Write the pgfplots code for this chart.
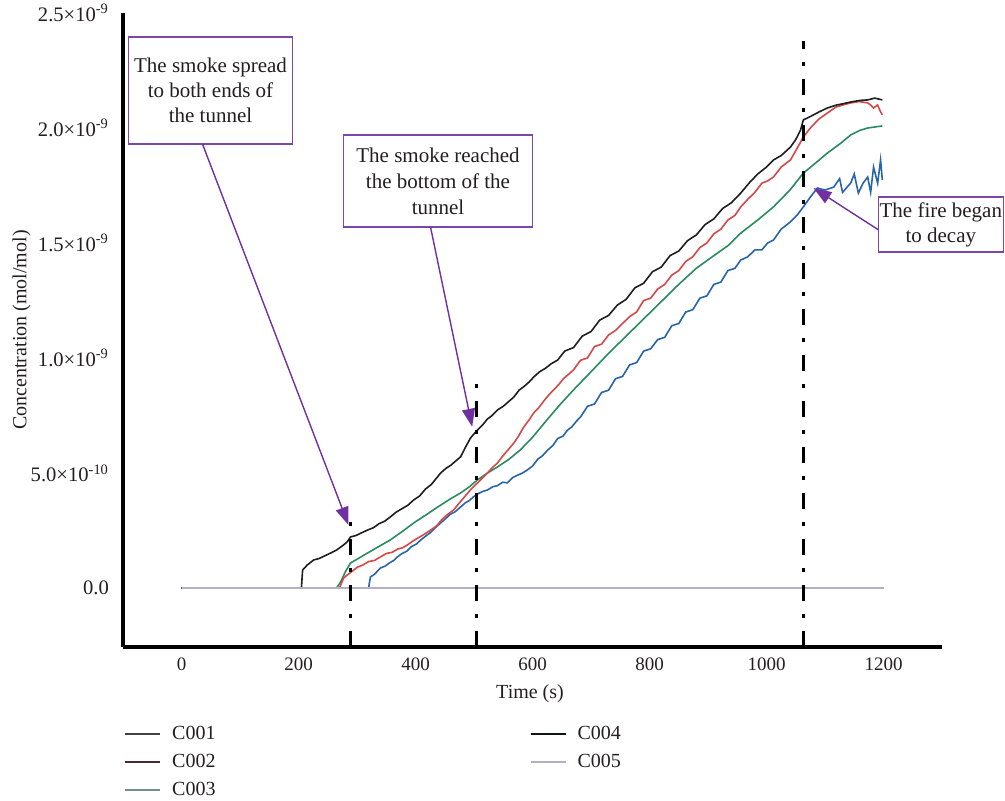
\documentclass[border=0pt]{standalone}
\usepackage{pgfplots}
\pgfplotsset{compat=1.18}
\usepackage{fontspec}
\setmainfont{Liberation Serif}
\usetikzlibrary{arrows.meta}

\definecolor{txt}{RGB}{35,31,32}
\definecolor{cblack}{RGB}{30,30,30}
\definecolor{cred}{RGB}{214,72,72}
\definecolor{cgreen}{RGB}{40,140,95}
\definecolor{cblue}{RGB}{40,100,170}
\definecolor{cgray}{RGB}{184,174,196}
\definecolor{lone}{RGB}{60,66,70}
\definecolor{ltwo}{RGB}{74,40,46}
\definecolor{lthree}{RGB}{122,138,140}
\definecolor{lfour}{RGB}{14,22,16}
\definecolor{annot}{RGB}{125,70,170}
\definecolor{arrowp}{RGB}{112,48,160}

\begin{document}
\begin{tikzpicture}
\begin{axis}[
  scale only axis, width=409.5pt, height=317pt,
  xmin=-100, xmax=1300, ymin=-0.2565, ymax=2.5,
  axis x line*=bottom, axis y line*=left,
  axis line style={line width=2pt, black, -},
  every outer x axis line/.append style={-},
  every outer y axis line/.append style={-},
  major tick length=0pt,
  xtick={0,200,400,600,800,1000,1200},
  ytick={0,0.5,1,1.5,2,2.5},
  yticklabels={0.0, 5.0×10\textsuperscript{-10}, 1.0×10\textsuperscript{-9}, 1.5×10\textsuperscript{-9}, 2.0×10\textsuperscript{-9}, 2.5×10\textsuperscript{-9}},
  /pgf/number format/assume math mode=true,
  /pgf/number format/1000 sep={},
  xticklabel style={font=\fontsize{9.5}{11}\selectfont, text=txt, yshift=-2pt},
  yticklabel style={font=\fontsize{10.3}{12}\selectfont, text=txt, xshift=-3.5pt},
  xlabel={Time (s)}, ylabel={Concentration (mol/mol)},
  label style={font=\fontsize{10}{12}\selectfont, text=txt},
  xlabel style={at={(axis description cs:0.497,-0.073)}, anchor=center},
  ylabel style={at={(axis description cs:-0.124,0.5)}, anchor=center},
  legend columns=2,
  legend cell align=left,
  legend image code/.code={\draw[#1] (0pt,0pt) -- (17.5pt,0pt);},
  legend style={at={(axis description cs:0.001,-0.116)}, anchor=north west,
    draw=none, fill=none, inner sep=0pt, row sep=1pt,
    font=\fontsize{10}{12}\selectfont, text=txt,
    nodes={inner ysep=2pt, inner xsep=5.5pt, text height=7.5pt, text depth=1.5pt},
    /tikz/every even column/.append style={column sep=151.5pt}},
  clip=false,
]
\addlegendimage{lone, line width=1pt}\addlegendentry{C001}
\addlegendimage{lfour, line width=1pt}\addlegendentry{C004}
\addlegendimage{ltwo, line width=1pt}\addlegendentry{C002}
\addlegendimage{cgray, line width=1pt}\addlegendentry{C005}
\addlegendimage{lthree, line width=1pt}\addlegendentry{C003}

% C003
\addplot[cgreen, line width=0.8pt, forget plot] coordinates {
(0,0) (265,0) (272,0.026) (280,0.07) (289,0.109) (300,0.125) (318,0.152) (337,0.18)
(357,0.209) (377,0.245) (397,0.283) (418,0.318) (438,0.352) (458,0.385) (477,0.413)
(492,0.44) (506,0.470) (523,0.50) (540,0.526) (560,0.56) (579,0.6) (600,0.655)
(626,0.735) (648,0.80) (670,0.861) (700,0.94) (730,1.02) (760,1.095) (790,1.17)
(820,1.245) (850,1.32) (880,1.39) (910,1.445) (935,1.49) (956,1.543) (985,1.60)
(1012,1.657) (1040,1.73) (1063,1.804) (1085,1.85) (1104,1.891) (1125,1.93)
(1144,1.970) (1160,1.99) (1173,2.0) (1198,2.009)};

% C004
\addplot[cblue, line width=0.8pt, forget plot] coordinates {
(0,0) (320,0) (321,0.02) (323,0.048) (330,0.06) (340,0.087) (348,0.095) (356,0.11)
(363,0.12) (369,0.135) (377,0.15) (385,0.16) (393,0.18) (401,0.19) (409,0.209)
(417,0.225) (425,0.24) (433,0.26) (443,0.283) (451,0.30) (459,0.32) (467,0.33)
(477,0.352) (485,0.37) (492,0.38) (499,0.396) (507,0.41) (515,0.42) (523,0.426)
(532,0.44) (540,0.445) (549,0.46) (557,0.457) (566,0.48) (574,0.49) (583,0.50)
(591,0.513) (600,0.53) (609,0.56) (617,0.575) (626,0.6) (635,0.62) (643,0.65)
(652,0.66) (660,0.687) (667,0.70) (675,0.725) (682,0.743) (694,0.79) (706,0.80)
(718,0.85) (730,0.86) (742,0.91) (754,0.92) (766,0.97) (778,0.98) (790,1.03)
(802,1.04) (814,1.08) (826,1.09) (838,1.14) (850,1.15) (862,1.20) (874,1.21)
(886,1.26) (898,1.27) (910,1.32) (922,1.33) (934,1.38) (946,1.39) (956,1.426)
(968,1.44) (980,1.47) (992,1.47) (1002,1.50) (1012,1.513) (1025,1.56) (1040,1.59)
(1052,1.62) (1063,1.657) (1075,1.70) (1087,1.739) (1100,1.73) (1115,1.743)
(1125,1.78) (1130,1.72) (1144,1.761) (1150,1.80) (1157,1.717) (1165,1.76)
(1173,1.787) (1178,1.72) (1183,1.830) (1190,1.76) (1195,1.861) (1198,1.774)};

% C002
\addplot[cred, line width=0.8pt, forget plot] coordinates {
(0,0) (270,0) (275,0.03) (277,0.043) (285,0.06) (293,0.075) (301,0.091) (310,0.10)
(320,0.115) (330,0.12) (340,0.135) (350,0.15) (360,0.155) (370,0.17) (378,0.175)
(386,0.187) (396,0.205) (406,0.22) (416,0.235) (426,0.252) (436,0.27) (446,0.30)
(455,0.32) (465,0.339) (475,0.37) (485,0.40) (495,0.43) (506,0.457) (515,0.48)
(523,0.50) (532,0.525) (540,0.543) (548,0.57) (558,0.60) (568,0.630) (576,0.66)
(585,0.70) (594,0.73) (602,0.761) (611,0.785) (620,0.815) (628,0.84) (636,0.861)
(645,0.885) (653,0.91) (662,0.93) (670,0.948) (682,0.99) (694,1.00) (706,1.05)
(718,1.06) (730,1.10) (742,1.12) (754,1.15) (766,1.18) (778,1.20) (790,1.25)
(802,1.26) (814,1.30) (826,1.32) (838,1.36) (850,1.38) (862,1.42) (874,1.44)
(886,1.48) (898,1.50) (910,1.54) (922,1.56) (934,1.60) (946,1.62) (956,1.657)
(968,1.69) (980,1.72) (992,1.76) (1002,1.77) (1012,1.787) (1025,1.83) (1041,1.861)
(1052,1.91) (1063,1.961) (1075,2.00) (1090,2.04) (1104,2.065) (1118,2.09)
(1130,2.10) (1144,2.109) (1158,2.115) (1173,2.109) (1178,2.10) (1183,2.087)
(1190,2.10) (1195,2.07) (1198,2.057)};

% C001
\addplot[cblack, line width=0.8pt, forget plot] coordinates {
(0,0) (205,0) (207,0.078) (215,0.10) (226,0.122) (235,0.128) (245,0.14) (255,0.152)
(265,0.165) (277,0.187) (283,0.20) (289,0.222) (298,0.228) (308,0.24) (318,0.252)
(328,0.262) (338,0.28) (347,0.29) (357,0.309) (367,0.33) (377,0.345) (387,0.36)
(397,0.383) (407,0.40) (417,0.43) (427,0.45) (435,0.475) (443,0.5) (452,0.52)
(461,0.535) (470,0.555) (477,0.57) (485,0.61) (494,0.652) (500,0.67) (506,0.687)
(515,0.71) (523,0.735) (531,0.75) (540,0.774) (550,0.79) (559,0.81) (568,0.83)
(577,0.86) (585,0.875) (594,0.895) (602,0.917) (612,0.94) (622,0.955) (632,0.975)
(643,0.991) (655,1.03) (670,1.045) (685,1.095) (700,1.115) (715,1.165) (730,1.185)
(745,1.23) (760,1.255) (775,1.305) (790,1.325) (805,1.375) (820,1.395) (835,1.445)
(850,1.465) (865,1.51) (880,1.535) (895,1.58) (910,1.605) (925,1.65) (940,1.675)
(956,1.717) (970,1.76) (985,1.80) (1000,1.83) (1012,1.861) (1025,1.88) (1041,1.917)
(1050,1.95) (1058,1.99) (1063,2.035) (1075,2.05) (1090,2.07) (1104,2.087)
(1120,2.10) (1130,2.105) (1144,2.113) (1160,2.12) (1173,2.122) (1185,2.13)
(1198,2.122)};

% C005
\addplot[cgray, line width=1.25pt, forget plot] coordinates {(0,0) (1200,0)};

% event lines
\addplot[black, line width=1.5pt, dash pattern=on 8pt off 6.5pt on 2pt off 6.5pt, forget plot]
  coordinates {(289,-0.2565) (289,0.32)};
\addplot[black, line width=1.5pt, dash pattern=on 8pt off 6.5pt on 2pt off 6.5pt, forget plot]
  coordinates {(504,-0.2565) (504,0.90)};
\addplot[black, line width=1.5pt, dash pattern=on 8pt off 6.5pt on 2pt off 6.5pt, forget plot]
  coordinates {(1063,-0.2565) (1063,2.38)};

% annotations
\node[draw=annot, line width=0.8pt, fill=white, align=center, minimum width=82pt,
  minimum height=53.5pt, inner sep=0pt, text=txt, font=\fontsize{10.5}{12.5}\selectfont]
  at (axis cs:49.6,2.163) {The smoke spread\\to both ends of\\the tunnel};
\node[draw=annot, line width=0.8pt, fill=white, align=center, minimum width=94.5pt,
  minimum height=46pt, inner sep=0pt, text=txt, font=\fontsize{10.5}{13}\selectfont]
  at (axis cs:438.5,1.770) {The smoke reached\\the bottom of the\\tunnel};
\node[draw=annot, line width=0.8pt, fill=white, align=center, minimum width=62.5pt,
  minimum height=27.5pt, inner sep=0pt, text=txt, font=\fontsize{10.5}{12.5}\selectfont]
  at (axis cs:1298,1.580) {The fire began\\to decay};
\draw[arrowp, line width=0.7pt, -{Triangle[length=9pt,width=6.5pt]}]
  (axis cs:35.9,1.930) -- (axis cs:285.5,0.274);
\draw[arrowp, line width=0.7pt, -{Triangle[length=9pt,width=6.5pt]}]
  (axis cs:425.6,1.570) -- (axis cs:496.9,0.701);
\draw[arrowp, line width=0.7pt, -{Triangle[length=9pt,width=6.5pt]}]
  (axis cs:1191.5,1.557) -- (axis cs:1080.3,1.739);
\end{axis}
\pgfresetboundingbox
\path (-61.5pt,-77pt) rectangle (441pt,323.5pt);
\end{tikzpicture}
\end{document}
